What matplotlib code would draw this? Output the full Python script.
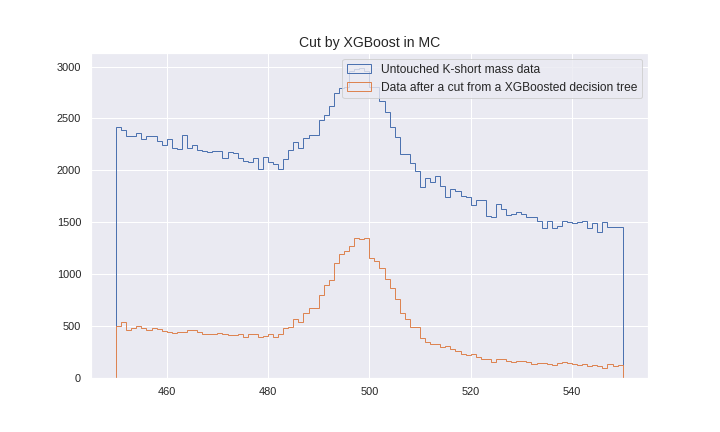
import numpy as np
import matplotlib
matplotlib.use("Agg")
import matplotlib.pyplot as plt
import seaborn as sns

sns.set()
plt.rcParams['font.family'] = ['Liberation Sans', 'DejaVu Sans']

edges = np.arange(450, 551, 1)

untouched = [2413, 2387, 2335, 2335, 2364, 2300, 2326, 2335, 2287, 2239,
             2297, 2219, 2203, 2345, 2219, 2239, 2200, 2184, 2174, 2190,
             2190, 2116, 2181, 2171, 2122, 2093, 2084, 2122, 2010, 2132,
             2084, 2058, 2010, 2113, 2193, 2268, 2213, 2309, 2345, 2345,
             2483, 2529, 2616, 2745, 2796, 2800, 2955, 2980, 2985, 2955,
             2805, 2800, 2670, 2558, 2413, 2322, 2161, 2155, 2074, 1993,
             1839, 1923, 1887, 1945, 1848, 1739, 1823, 1804, 1751, 1739,
             1661, 1713, 1710, 1558, 1552, 1671, 1629, 1568, 1581, 1597,
             1575, 1552, 1552, 1507, 1446, 1510, 1440, 1461, 1507, 1500,
             1494, 1504, 1510, 1446, 1494, 1400, 1504, 1455, 1455, 1455]

after_cut = [498, 537, 462, 479, 498, 479, 462, 479, 469, 453,
             443, 430, 440, 440, 459, 459, 440, 420, 420, 420,
             430, 420, 411, 411, 420, 391, 420, 420, 391, 401,
             420, 391, 420, 479, 488, 566, 537, 624, 672, 672,
             798, 895, 943, 1107, 1194, 1223, 1272, 1349, 1339, 1349,
             1156, 1127, 1059, 953, 866, 759, 624, 566, 488, 488,
             382, 343, 324, 324, 295, 304, 276, 256, 227, 218,
             227, 198, 179, 179, 150, 179, 179, 160, 150, 160,
             160, 150, 131, 140, 140, 131, 121, 140, 150, 140,
             131, 121, 131, 111, 121, 111, 92, 131, 111, 121]

labels = ["Untouched K-short mass data",
          "Data after a cut from a XGBoosted decision tree"]

fig = plt.figure(figsize=(10, 6), dpi=72)
ax = fig.add_subplot(111)
fig.subplots_adjust(left=0.126, right=0.9, top=0.878, bottom=0.126)

centers = (edges[:-1] + edges[1:]) / 2
ax.hist(centers, bins=edges, weights=untouched, histtype="step", label=labels[0])
ax.hist(centers, bins=edges, weights=after_cut, histtype="step", label=labels[1])

ax.set_title("Cut by XGBoost in MC", fontsize=14)
ax.legend(loc="upper right", fontsize=12)

fig.savefig("out.png", dpi=72)
